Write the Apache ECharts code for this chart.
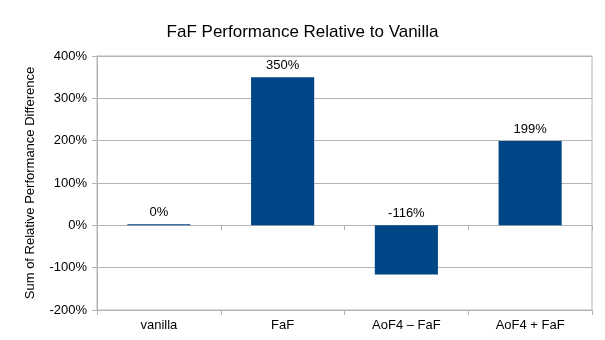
<!DOCTYPE html>
<html><head><meta charset="utf-8">
<script src="https://cdn.jsdelivr.net/npm/echarts@6/dist/echarts.min.js"></script>
<style>html,body{margin:0;padding:0;background:#fff}#c{width:605px;height:340px}</style>
</head><body><div id="c"></div>
<script>
const categories = ['vanilla', 'FaF', 'AoF4 \u2013 FaF', 'AoF4 + FaF'];
const values = [0.4, 350, -116, 199];
const yTicks = { min: -200, max: 400, interval: 100 };
const titleText = 'FaF Performance Relative to Vanilla';
const yName = 'Sum of Relative Performance Difference';

const font = '"Liberation Sans", Arial, sans-serif';
const chart = echarts.init(document.getElementById('c'), null, { renderer: 'canvas' });
chart.setOption({
  animation: false,
  backgroundColor: '#fff',
  title: { text: titleText, left: 'center', top: 19, textStyle: { fontFamily: font, fontSize: 17, fontWeight: 'normal', color: '#000' } },
  grid: { left: 97, right: 13, top: 56, bottom: 30, show: true, borderColor: '#b3b3b3', borderWidth: 1 },
  xAxis: [{
    type: 'category', data: categories, position: 'bottom',
    axisLine: { show: false },
    axisTick: { show: true, length: 5, lineStyle: { color: '#b3b3b3' } },
    axisLabel: { fontFamily: font, fontSize: 13, color: '#000', margin: 9 },
    splitLine: { show: false }
  }, {
    type: 'category', data: categories, position: 'bottom',
    axisLine: { show: true, onZero: true, lineStyle: { color: '#b3b3b3' } },
    axisTick: { show: true, length: 5, inside: false, lineStyle: { color: '#b3b3b3' } },
    axisLabel: { show: false },
    splitLine: { show: false }
  }],
  yAxis: {
    type: 'value', min: yTicks.min, max: yTicks.max, interval: yTicks.interval,
    name: yName, nameLocation: 'middle', nameGap: 60,
    nameTextStyle: { fontFamily: font, fontSize: 13, color: '#000' },
    axisLine: { show: true, lineStyle: { color: '#b3b3b3' } },
    axisTick: { show: true, length: 5, lineStyle: { color: '#b3b3b3' } },
    axisLabel: { fontFamily: font, fontSize: 13, color: '#000', margin: 10, formatter: v => v + '%' },
    splitLine: { show: true, lineStyle: { color: '#b3b3b3', width: 1 } }
  },
  series: [{
    type: 'bar', data: values.map(v => ({ value: v, label: { position: 'top' } })),
    barWidth: '51%', barMinHeight: 1,
    itemStyle: { color: '#004586' },
    label: { show: true, position: 'top', distance: 5, fontFamily: font, fontSize: 13, color: '#000',
      formatter: p => Math.round(p.value) + '%' }
  }]
});
</script></body></html>
